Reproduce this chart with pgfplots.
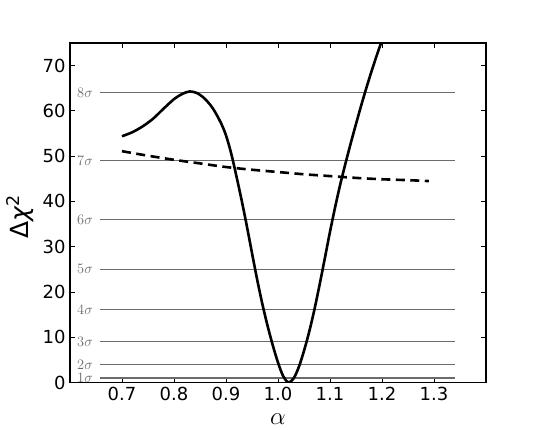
\documentclass[border=0pt]{standalone}
\usepackage{fontspec}
\setmainfont{DejaVu Sans}
\usepackage{pgfplots}
\pgfplotsset{compat=1.18}
\definecolor{siggray}{gray}{0.42}
\begin{document}
\begin{tikzpicture}
\begin{axis}[
  scale only axis,
  width=416pt, height=339.5pt,
  xmin=0.6, xmax=1.4, ymin=0, ymax=75,
  xtick={0.7,0.8,0.9,1.0,1.1,1.2,1.3},
  xticklabels={0.7,0.8,0.9,1.0,1.1,1.2,1.3},
  ytick={0,10,20,30,40,50,60,70},
  tick align=inside, tick pos=both,
  major tick length=5pt,
  every tick/.style={black, line width=0.9pt},
  axis line style={line width=1.1pt},
  /pgf/number format/assume math mode=true,
  tick label style={font=\fontsize{18}{18}\selectfont},
  xticklabel style={yshift=-1pt},
  yticklabel style={xshift=-1pt},
  xlabel={$\alpha$},
  ylabel={Δ\textit{χ}\textsuperscript{2}},
  label style={font=\fontsize{25}{25}\selectfont},
  xlabel style={at={(axis description cs:0.5,0)}, anchor=center, yshift=-37pt},
  ylabel style={at={(axis description cs:0,0.5)}, anchor=center, yshift=50pt, xshift=-4pt},
  clip=true,
]
% sigma levels
\addplot[siggray, line width=1.2pt, forget plot] coordinates {(0.6577,1) (1.340,1)};
\addplot[siggray, line width=1.2pt, forget plot] coordinates {(0.6577,4) (1.340,4)};
\addplot[siggray, line width=1.2pt, forget plot] coordinates {(0.6577,9) (1.340,9)};
\addplot[siggray, line width=1.2pt, forget plot] coordinates {(0.6577,16.1) (1.340,16.1)};
\addplot[siggray, line width=1.2pt, forget plot] coordinates {(0.6577,25) (1.340,25)};
\addplot[siggray, line width=1.2pt, forget plot] coordinates {(0.6577,36) (1.340,36)};
\addplot[siggray, line width=1.2pt, forget plot] coordinates {(0.6577,49) (1.340,49)};
\addplot[siggray, line width=1.2pt, forget plot] coordinates {(0.6577,64) (1.340,64)};
% solid curve
\addplot[black, line width=2.6pt, smooth] coordinates {
(0.700,54.4) (0.720,55.3) (0.740,56.6) (0.760,58.3) (0.780,60.5) (0.800,62.6)
(0.815,63.7) (0.830,64.3) (0.845,63.9) (0.860,62.6) (0.875,60.5) (0.890,57.4)
(0.900,54.6) (0.910,50.6) (0.920,45.6) (0.930,40.3) (0.940,34.6) (0.950,28.6)
(0.960,22.7) (0.970,17.3) (0.980,12.5) (0.990,8.2) (1.000,4.4) (1.010,1.4)
(1.020,0.0) (1.030,0.9) (1.040,3.4) (1.050,7.0) (1.060,11.2) (1.070,16.1)
(1.080,21.6) (1.090,27.4) (1.100,33.3) (1.110,38.8) (1.120,43.9) (1.130,48.5)
(1.140,52.9) (1.150,57.1) (1.160,61.2) (1.170,65.1) (1.180,68.8) (1.190,72.3)
(1.200,75.6)
};
% dashed curve
\addplot[black, line width=2.6pt, dash pattern=on 9pt off 5.5pt, smooth] coordinates {
(0.70,51.1) (0.75,50.1) (0.80,49.2) (0.85,48.4) (0.90,47.6) (0.95,47.0)
(1.00,46.5) (1.05,46.0) (1.10,45.6) (1.15,45.2) (1.20,44.9) (1.25,44.7) (1.29,44.5)
};
% sigma labels
\node[anchor=east, inner sep=0pt, text=siggray, font=\fontsize{14.5}{14.5}\selectfont] at (axis cs:0.6442,1) {$1\sigma$};
\node[anchor=east, inner sep=0pt, text=siggray, font=\fontsize{14.5}{14.5}\selectfont] at (axis cs:0.6442,4) {$2\sigma$};
\node[anchor=east, inner sep=0pt, text=siggray, font=\fontsize{14.5}{14.5}\selectfont] at (axis cs:0.6442,9) {$3\sigma$};
\node[anchor=east, inner sep=0pt, text=siggray, font=\fontsize{14.5}{14.5}\selectfont] at (axis cs:0.6442,16) {$4\sigma$};
\node[anchor=east, inner sep=0pt, text=siggray, font=\fontsize{14.5}{14.5}\selectfont] at (axis cs:0.6442,25) {$5\sigma$};
\node[anchor=east, inner sep=0pt, text=siggray, font=\fontsize{14.5}{14.5}\selectfont] at (axis cs:0.6442,36) {$6\sigma$};
\node[anchor=east, inner sep=0pt, text=siggray, font=\fontsize{14.5}{14.5}\selectfont] at (axis cs:0.6442,49) {$7\sigma$};
\node[anchor=east, inner sep=0pt, text=siggray, font=\fontsize{14.5}{14.5}\selectfont] at (axis cs:0.6442,64) {$8\sigma$};
\end{axis}
\path (current axis.south west) ++(-70pt,-47.5pt) rectangle ++(540pt,430pt);
\end{tikzpicture}
\end{document}
